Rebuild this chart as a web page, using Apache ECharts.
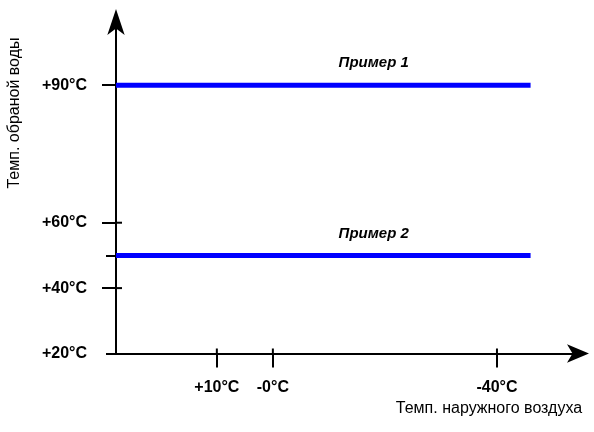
<!DOCTYPE html>
<html>
<head>
<meta charset="utf-8">
<script src="https://cdn.jsdelivr.net/npm/echarts@6/dist/echarts.min.js"></script>
<style>
  html, body { margin: 0; padding: 0; background: #fff; }
  #chart { width: 594px; height: 432px; }
</style>
</head>
<body>
<div id="chart"></div>
<script>
// ---- data ----
const seriesNames = ['Пример 1', 'Пример 2'];
const outdoorSpan = [28, -46];          // outdoor temperature range covered by both lines
const example1 = [90, 90];              // return water temp, example 1
const example2 = [50, 50];              // return water temp, example 2
const labelOutdoor = -18;               // where the example captions sit
const xTickValues = [10, 0, -40];
const xTickLabels = ['+10°C', '-0°C', '-40°C'];
const yTickValuesLow = [20, 40, 60];
const yTickLabelsLow = ['+20°C', '+40°C', '+60°C'];
const yTickValuesHigh = [90];
const yTickLabelsHigh = ['+90°C'];
const yMajorTicks = [40, 60];
const yMinorTicks = [20, 50];
const yAxisName = 'Темп. обраной воды';
const xAxisName = 'Темп. наружного воздуха';

// ---- chart ----
const FONT = "'Liberation Sans', Arial, sans-serif";
const black = '#000';
const X_MIN = -55, X_MAX = 28;
const chart = echarts.init(document.getElementById('chart'), null, { renderer: 'canvas' });

const pick = (vals, labels) => v => { const i = vals.indexOf(v); return i >= 0 ? labels[i] : ''; };
const tickStyle = { color: black, width: 2 };
const labelStyle = { color: black, fontWeight: 'bold', fontSize: 16, fontFamily: FONT };

function yAx(min, max, extra) {
  return Object.assign({
    type: 'value', gridIndex: 0, position: 'left', min: min, max: max,
    splitLine: { show: false }
  }, extra);
}

function lineSeries(name, values, yIdx) {
  return {
    name: name, type: 'line', xAxisIndex: 0, yAxisIndex: yIdx,
    data: outdoorSpan.map((x, i) => [x, values[i]]),
    symbol: 'none', silent: true,
    lineStyle: { color: '#0000ff', width: 5, cap: 'butt' },
    markPoint: {
      symbol: 'circle', symbolSize: 0, silent: true, animation: false,
      data: [{ coord: [labelOutdoor, values[0]] }],
      label: {
        show: true, position: 'inside', offset: [0, -22], formatter: name,
        color: black, fontStyle: 'italic', fontWeight: 'bold', fontSize: 15, fontFamily: FONT
      }
    }
  };
}

const option = {
  animation: false,
  backgroundColor: '#fff',
  grid: { left: 116, right: 13, top: 20, bottom: 78.5, containLabel: false },
  xAxis: [{
    type: 'value', gridIndex: 0, position: 'bottom', min: X_MIN, max: X_MAX, inverse: true,
    splitLine: { show: false },
    axisLine: { onZero: false, lineStyle: tickStyle, symbol: ['none', 'arrow'], symbolSize: [14, 22], symbolOffset: [0, 8] },
    axisTick: { customValues: xTickValues, length: 14, lineStyle: tickStyle },
    axisLabel: Object.assign({ customValues: xTickValues, formatter: pick(xTickValues, xTickLabels), margin: 26 }, labelStyle)
  }],
  yAxis: [
    yAx(20, 122, {
      axisLine: { onZero: false, lineStyle: tickStyle, symbol: ['none', 'arrow'], symbolSize: [13, 26], symbolOffset: [0, 11] },
      axisTick: { customValues: yMajorTicks, length: 14, lineStyle: tickStyle },
      axisLabel: Object.assign({ customValues: yTickValuesLow, formatter: pick(yTickValuesLow, yTickLabelsLow), margin: 29 }, labelStyle)
    }),
    yAx(20, 107, {
      axisLine: { show: false, onZero: false },
      axisTick: { customValues: yTickValuesHigh, length: 14, lineStyle: tickStyle },
      axisLabel: Object.assign({ customValues: yTickValuesHigh, formatter: pick(yTickValuesHigh, yTickLabelsHigh), margin: 29 }, labelStyle)
    }),
    yAx(20, 122, {
      axisLine: { show: false, onZero: false },
      axisTick: { customValues: yMinorTicks, length: 10, lineStyle: tickStyle },
      axisLabel: { show: false }
    })
  ],
  series: [
    lineSeries(seriesNames[0], example1, 1),
    lineSeries(seriesNames[1], example2, 0)
  ],
  graphic: [
    { type: 'text', x: 15, y: 113, rotation: Math.PI / 2, silent: true,
      style: { text: yAxisName, fill: black, fontSize: 16, fontFamily: FONT, align: 'center', verticalAlign: 'middle' } },
    { type: 'text', x: 489, y: 409, silent: true,
      style: { text: xAxisName, fill: black, fontSize: 16, fontFamily: FONT, align: 'center', verticalAlign: 'middle' } }
  ]
};
chart.setOption(option);

// inner halves of the crossing ticks, placed through the axes' own scales
const finder = { xAxisIndex: 0, yAxisIndex: 0 };
const stubs = [];
yMajorTicks.forEach(v => {
  const p = chart.convertToPixel(finder, [X_MAX, v]);
  stubs.push({ type: 'line', silent: true, shape: { x1: p[0], y1: p[1], x2: p[0] + 6, y2: p[1] },
    style: { stroke: black, lineWidth: 2 } });
});
xTickValues.forEach(v => {
  const p = chart.convertToPixel(finder, [v, 20]);
  stubs.push({ type: 'line', silent: true, shape: { x1: p[0], y1: p[1], x2: p[0], y2: p[1] - 5 },
    style: { stroke: black, lineWidth: 2 } });
});
chart.setOption({ graphic: option.graphic.concat(stubs) });
</script>
</body>
</html>
